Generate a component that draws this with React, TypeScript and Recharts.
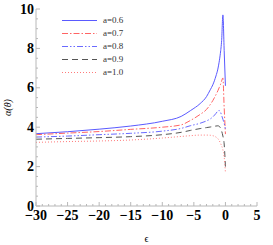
import React from 'react';
import { LineChart, Line, XAxis, YAxis, Label } from 'recharts';

// epsilon sample points (shared by all curves)
const eps = [-30, -25, -20, -15, -10, -7, -5.5, -4, -3, -2.4, -2, -1.5, -1.2, -1, -0.8, -0.6, -0.4, -0.2, 0];

// alpha(theta)
const a06 = [3.67, 3.77, 3.9, 4.06, 4.3, 4.55, 4.85, 5.2, 5.55, 5.9, 6.15, 6.6, 6.95, 7.3, 7.75, 8.4, 9.7, 7.9, 6.1];
const a07 = [3.62, 3.7, 3.78, 3.89, 4.0, 4.12, 4.35, 4.65, 4.9, 5.15, 5.35, 5.65, 5.85, 6.0, 6.15, 6.35, 6.5, 5.0, 3.65];
const a08 = [3.5, 3.55, 3.62, 3.69, 3.8, 3.94, 4.08, 4.2, 4.32, 4.42, 4.52, 4.7, 4.82, 4.85, 4.78, 4.6, 4.4, 4.2, 3.9];
const a09 = [3.39, 3.43, 3.47, 3.52, 3.62, 3.74, 3.84, 3.93, 3.98, 4.01, 4.03, 4.06, 4.07, 4.05, 3.97, 3.8, 3.55, 3.15, 2.0];
const a10 = [3.23, 3.27, 3.3, 3.35, 3.45, 3.53, 3.57, 3.6, 3.6, 3.59, 3.57, 3.5, 3.42, 3.33, 3.2, 3.05, 2.85, 2.5, 1.7];

const xMajor = [-30, -25, -20, -15, -10, -5, 0, 5];
const yMajor = [0, 2, 4, 6, 8, 10];

const series = [
  { key: 'a06', name: 'a=0.6', color: '#5a5aff', dash: undefined },
  { key: 'a07', name: 'a=0.7', color: '#ff6464', dash: '6 2 1.5 2' },
  { key: 'a08', name: 'a=0.8', color: '#6a6aff', dash: '6 2 1.5 2 1.5 2' },
  { key: 'a09', name: 'a=0.9', color: '#555555', dash: '6 4' },
  { key: 'a10', name: 'a=1.0', color: '#ff7a7a', dash: '1 2' },
];

const data = eps.map((e, i) => ({ eps: e, a06: a06[i], a07: a07[i], a08: a08[i], a09: a09[i], a10: a10[i] }));

// minor ticks every 1 on x, every 0.5 on y
const xTicks: number[] = [];
for (let v = -30; v <= 5; v++) xTicks.push(v);
const yTicks: number[] = [];
for (let v = 0; v <= 20; v++) yTicks.push(v / 2);

const FRAME = '#b8b8b8';
const tickFont = { fontFamily: '"Liberation Serif", serif', fontWeight: 700, fontSize: 14, fill: '#000' };
const fmt = (v: number) => (v < 0 ? `\u2212${-v}` : `${v}`);

const BottomTick = ({ x, y, payload }: any) => {
  const major = xMajor.includes(payload.value);
  return (
    <g>
      <line x1={x} x2={x} y1={y} y2={y - (major ? 4 : 2)} stroke={FRAME} />
      {major && (
        <text x={x} y={y} dy={14} textAnchor="middle" {...tickFont}>
          {fmt(payload.value)}
        </text>
      )}
    </g>
  );
};

const TopTick = ({ x, y, payload }: any) => {
  const major = xMajor.includes(payload.value);
  return <line x1={x} x2={x} y1={y} y2={y + (major ? 4 : 2)} stroke={FRAME} />;
};

const LeftTick = ({ x, y, payload }: any) => {
  const major = yMajor.includes(payload.value);
  return (
    <g>
      <line x1={x} x2={x + (major ? 4 : 2)} y1={y} y2={y} stroke={FRAME} />
      {major && (
        <text x={x - 2} y={y} dy={4.5} textAnchor="end" {...tickFont}>
          {fmt(payload.value)}
        </text>
      )}
    </g>
  );
};

const RightTick = ({ x, y, payload }: any) => {
  const major = yMajor.includes(payload.value);
  return <line x1={x} x2={x - (major ? 4 : 2)} y1={y} y2={y} stroke={FRAME} />;
};

const LegendBox = () => (
  <div style={{ position: 'absolute', left: 60, top: 14 }}>
    {series.map((s) => (
      <div key={s.key} style={{ display: 'flex', alignItems: 'center', height: 13 }}>
        <svg width={38} height={13}>
          <line x1={2} x2={37} y1={6.5} y2={6.5} stroke={s.color} strokeWidth={1} strokeDasharray={s.dash} />
        </svg>
        <span
          style={{
            marginLeft: 5,
            fontFamily: '"Liberation Serif", serif',
            fontSize: 9,
            color: '#333',
            lineHeight: '13px',
          }}
        >
          {s.name}
        </span>
      </div>
    ))}
  </div>
);

const App = () => {
  return (
    <div style={{ position: 'absolute', left: 0, top: 0, width: 273, height: 245, background: '#fff' }}>
      <LineChart width={273} height={245} data={data} margin={{ top: 9, right: 16, bottom: 0, left: 0 }}>
        <XAxis
          xAxisId="b"
          dataKey="eps"
          type="number"
          domain={[-30, 5]}
          ticks={xTicks}
          interval={0}
          tickSize={0}
          tickMargin={0}
          tickLine={false}
          tick={<BottomTick />}
          axisLine={{ stroke: FRAME }}
          height={39}
        >
          <Label
            content={({ viewBox }: any) => (
              <text
                x={viewBox.x + viewBox.width / 2}
                y={viewBox.y + 36}
                textAnchor="middle"
                fontFamily='"Liberation Serif", serif'
                fontSize={10}
                fill="#000"
              >
                ϵ
              </text>
            )}
          />
        </XAxis>
        <XAxis
          xAxisId="t"
          orientation="top"
          dataKey="eps"
          type="number"
          domain={[-30, 5]}
          ticks={xTicks}
          interval={0}
          tickSize={0}
          tickMargin={0}
          tickLine={false}
          tick={<TopTick />}
          axisLine={{ stroke: FRAME }}
          height={0}
        />
        <YAxis
          yAxisId="l"
          type="number"
          domain={[0, 10]}
          ticks={yTicks}
          interval={0}
          tickSize={0}
          tickMargin={0}
          tickLine={false}
          tick={<LeftTick />}
          axisLine={{ stroke: FRAME }}
          width={36}
        >
          <Label
            content={({ viewBox }: any) => {
              const cx = 11;
              const cy = viewBox.y + viewBox.height / 2;
              return (
                <text
                  x={cx}
                  y={cy}
                  transform={`rotate(-90 ${cx} ${cy})`}
                  textAnchor="middle"
                  fontFamily='"Liberation Serif", serif'
                  fontStyle="italic"
                  fontSize={10}
                  fill="#000"
                >
                  α(θ)
                </text>
              );
            }}
          />
        </YAxis>
        <YAxis
          yAxisId="r"
          orientation="right"
          type="number"
          domain={[0, 10]}
          ticks={yTicks}
          interval={0}
          tickSize={0}
          tickMargin={0}
          tickLine={false}
          tick={<RightTick />}
          axisLine={{ stroke: FRAME }}
          width={0}
        />
        {series.map((s) => (
          <Line
            key={s.key}
            xAxisId="b"
            yAxisId="l"
            type="monotone"
            dataKey={s.key}
            name={s.name}
            stroke={s.color}
            strokeWidth={1}
            strokeDasharray={s.dash}
            dot={false}
            activeDot={false}
            isAnimationActive={false}
          />
        ))}
      </LineChart>
      <LegendBox />
    </div>
  );
};

export default App;
